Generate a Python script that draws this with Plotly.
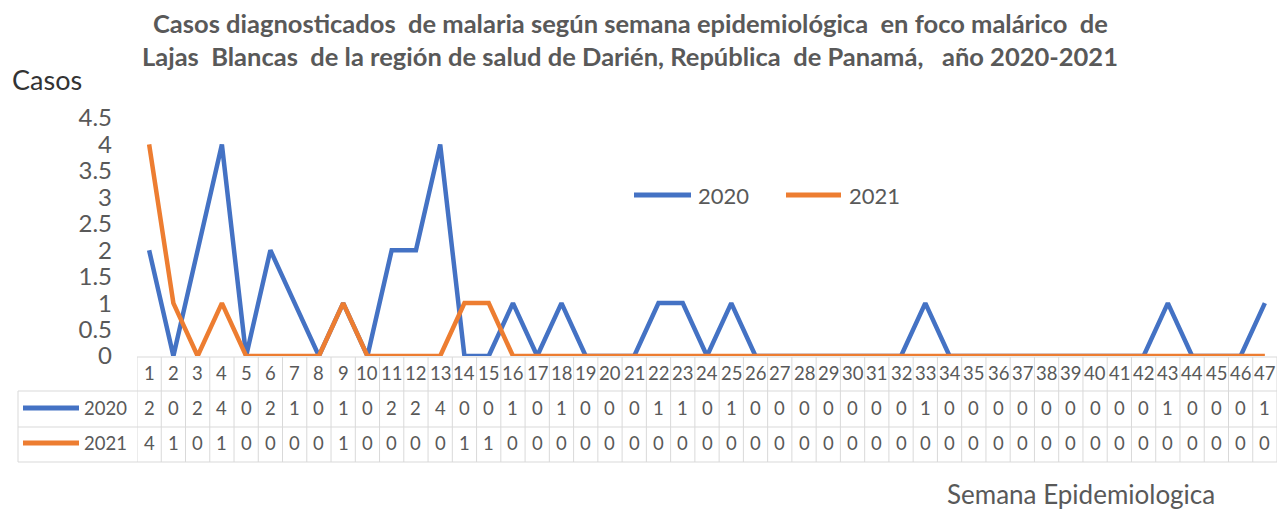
import plotly.graph_objects as go

semanas = list(range(1, 48))
casos_2020 = [2, 0, 2, 4, 0, 2, 1, 0, 1, 0, 2, 2, 4, 0, 0, 1, 0, 1, 0, 0, 0, 1, 1, 0,
              1, 0, 0, 0, 0, 0, 0, 0, 1, 0, 0, 0, 0, 0, 0, 0, 0, 0, 1, 0, 0, 0, 1]
casos_2021 = [4, 1, 0, 1, 0, 0, 0, 0, 1, 0, 0, 0, 0, 1, 1, 0, 0, 0, 0, 0, 0, 0, 0, 0,
              0, 0, 0, 0, 0, 0, 0, 0, 0, 0, 0, 0, 0, 0, 0, 0, 0, 0, 0, 0, 0, 0, 0]
series = [("2020", casos_2020, "#4472C4"), ("2021", casos_2021, "#ED7D31")]

titulo_1 = "Casos diagnosticados\u00a0 de malaria según semana epidemiológica\u00a0 en foco malárico\u00a0 de"
titulo_2 = "Lajas\u00a0 Blancas\u00a0 de la región de salud de Darién, República\u00a0 de Panamá,\u00a0\u00a0 año 2020-2021"

W, H = 1277, 513
L, R, T, B = 137, 0, 118, 157
FONT = "Lato, Calibri, sans-serif"
GRIS = "#595959"
BORDE = "#d9d9d9"


def py(p):  # fila en píxeles -> y paper
    return (H - B - p) / (H - T - B)


def px_(p):  # columna en píxeles -> x paper
    return (p - L) / (W - L - R)


def texto(x, y, t, size, xref="paper", xanchor="center", color=GRIS, weight="normal"):
    return dict(x=x, y=y, xref=xref, yref="paper", text=t, showarrow=False,
                xanchor=xanchor, yanchor="middle",
                font=dict(size=size, color=color, family=FONT, weight=weight))


fig = go.Figure()
for nombre, valores, color in series:
    fig.add_trace(go.Scatter(
        x=semanas, y=valores, mode="lines", name=nombre,
        line=dict(color=color, width=4.5), cliponaxis=False,
    ))

shapes = []
anns = []

# tabla de datos
y_filas = [357, 391, 427, 462]
for k in range(len(semanas) + 1):
    shapes.append(dict(type="line", xref="x", yref="paper", x0=k + 0.5, x1=k + 0.5,
                       y0=py(y_filas[0]), y1=py(y_filas[-1]),
                       line=dict(color=BORDE, width=1), layer="below"))
shapes.append(dict(type="line", xref="paper", yref="paper", x0=px_(18), x1=px_(18),
                   y0=py(y_filas[1]), y1=py(y_filas[-1]), line=dict(color=BORDE, width=1)))
shapes.append(dict(type="line", xref="x", yref="paper", x0=0.5, x1=len(semanas) + 0.5,
                   y0=py(y_filas[0]), y1=py(y_filas[0]), line=dict(color=BORDE, width=1), layer="below"))
for yy in y_filas[1:]:
    shapes.append(dict(type="line", xref="paper", yref="paper", x0=px_(18), x1=1,
                       y0=py(yy), y1=py(yy), line=dict(color=BORDE, width=1)))

for s in semanas:
    anns.append(texto(s, py(373), str(s), 18.5, xref="x"))

for (nombre, valores, color), yc in zip(series, [408, 443]):
    for s, v in zip(semanas, valores):
        anns.append(texto(s, py(yc), str(v), 18.5, xref="x"))
    shapes.append(dict(type="line", xref="paper", yref="paper", x0=px_(23), x1=px_(79),
                       y0=py(yc), y1=py(yc), line=dict(color=color, width=5)))
    anns.append(texto(px_(129), py(yc), nombre, 18.5, xanchor="right"))

# leyenda dentro del gráfico
for (nombre, valores, color), (x0, x1, xt) in zip(series, [(634, 691, 696), (786, 841, 847)]):
    shapes.append(dict(type="line", xref="paper", yref="paper", x0=px_(x0), x1=px_(x1),
                       y0=py(195), y1=py(195), line=dict(color=color, width=5)))
    anns.append(texto(px_(xt), py(195), nombre, 22, xanchor="left"))

# títulos
anns.append(texto(px_(630), py(23), titulo_1, 25.5, weight="bold"))
anns.append(texto(px_(630), py(56), titulo_2, 25.5, weight="bold"))
anns.append(texto(px_(10), py(80), "Casos", 27, xanchor="left", color="#333333"))
anns.append(texto(px_(945), py(494), "Semana Epidemiologica", 26, xanchor="left"))

fig.update_layout(
    width=W, height=H, autosize=False,
    margin=dict(l=L, r=R, t=T, b=B),
    paper_bgcolor="white", plot_bgcolor="white",
    showlegend=False,
    shapes=shapes, annotations=anns,
    xaxis=dict(range=[0.5, len(semanas) + 0.5], showticklabels=False, showgrid=False,
               zeroline=False, showline=False),
    yaxis=dict(range=[0, 4.5], dtick=0.5, tick0=0, showgrid=False, zeroline=False,
               showline=False, ticks="", ticklabelstandoff=24,
               tickfont=dict(size=24, color=GRIS, family=FONT)),
)

fig.write_html("out.html", config={"displayModeBar": False},
               post_script="document.body.style.margin='0';")
